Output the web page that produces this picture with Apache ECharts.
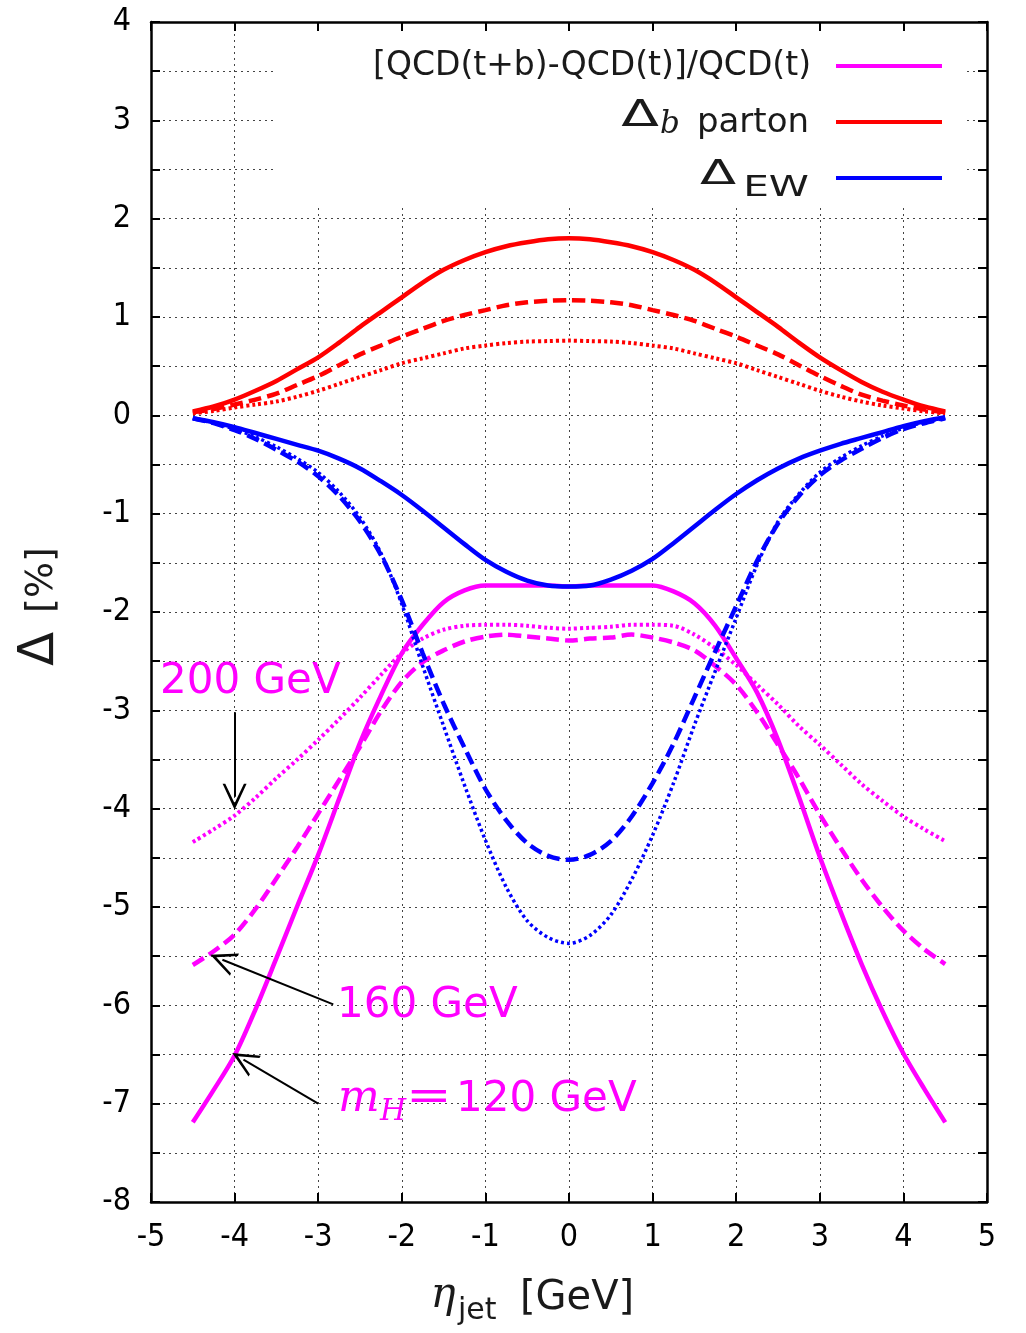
<!DOCTYPE html>
<html>
<head>
<meta charset="utf-8">
<script src="https://cdn.jsdelivr.net/npm/echarts@6/dist/echarts.min.js"></script>
<style>
  html, body { margin: 0; padding: 0; background: #fff; }
  #chart { width: 1026px; height: 1333px; }
</style>
</head>
<body>
<div id="chart"></div>
<script>
// eta_jet sample points
const etaVals = [-4.5, -4.25, -4, -3.75, -3.5, -3.25, -3, -2.75, -2.5, -2.25, -2, -1.75, -1.5, -1.25, -1, -0.75, -0.5, -0.25,
  0, 0.25, 0.5, 0.75, 1, 1.25, 1.5, 1.75, 2, 2.25, 2.5, 2.75, 3, 3.25, 3.5, 3.75, 4, 4.25, 4.5]

// [QCD(t+b)-QCD(t)]/QCD(t)  (magenta)
const qcd120 = [-7.19, -6.86, -6.51, -6.04, -5.52, -4.99, -4.47, -3.90, -3.33, -2.85, -2.42, -2.13, -1.90, -1.78, -1.73, -1.73, -1.73, -1.73,
  -1.74, -1.73, -1.73, -1.73, -1.73, -1.79, -1.91, -2.14, -2.47, -2.82, -3.30, -3.88, -4.49, -5.05, -5.58, -6.06, -6.49, -6.85, -7.19]
const qcd160 = [-5.59, -5.45, -5.28, -5.02, -4.71, -4.39, -4.05, -3.71, -3.37, -3.01, -2.71, -2.51, -2.39, -2.30, -2.25, -2.23, -2.25, -2.27,
  -2.29, -2.27, -2.26, -2.23, -2.26, -2.31, -2.39, -2.55, -2.74, -3.02, -3.35, -3.69, -4.06, -4.40, -4.72, -5.00, -5.24, -5.43, -5.58]
const qcd200 = [-4.34, -4.21, -4.07, -3.89, -3.69, -3.50, -3.30, -3.09, -2.87, -2.64, -2.42, -2.27, -2.18, -2.14, -2.13, -2.13, -2.14, -2.16,
  -2.17, -2.16, -2.15, -2.13, -2.13, -2.14, -2.23, -2.37, -2.54, -2.74, -2.94, -3.16, -3.35, -3.55, -3.75, -3.92, -4.08, -4.21, -4.33]

// Delta_b parton  (red)
const bParton120 = [0.04, 0.09, 0.16, 0.25, 0.35, 0.47, 0.59, 0.74, 0.90, 1.05, 1.20, 1.35, 1.48, 1.58, 1.66, 1.72, 1.76, 1.79,
  1.80, 1.79, 1.76, 1.72, 1.66, 1.58, 1.48, 1.35, 1.20, 1.05, 0.90, 0.74, 0.59, 0.46, 0.34, 0.24, 0.16, 0.09, 0.04]
const bParton160 = [0.03, 0.065, 0.11, 0.16, 0.22, 0.31, 0.40, 0.51, 0.62, 0.71, 0.80, 0.88, 0.96, 1.02, 1.07, 1.12, 1.15, 1.165,
  1.17, 1.165, 1.15, 1.12, 1.07, 1.02, 0.96, 0.88, 0.80, 0.71, 0.62, 0.51, 0.40, 0.30, 0.21, 0.15, 0.10, 0.06, 0.03]
const bParton200 = [0.02, 0.045, 0.08, 0.11, 0.14, 0.19, 0.25, 0.32, 0.39, 0.46, 0.53, 0.58, 0.63, 0.68, 0.71, 0.735, 0.75, 0.755,
  0.76, 0.755, 0.75, 0.735, 0.71, 0.68, 0.63, 0.58, 0.53, 0.46, 0.39, 0.32, 0.25, 0.19, 0.14, 0.10, 0.07, 0.04, 0.02]

// Delta_EW  (blue)
const ew120 = [-0.03, -0.07, -0.12, -0.18, -0.24, -0.30, -0.36, -0.44, -0.54, -0.67, -0.81, -0.97, -1.14, -1.31, -1.47, -1.59, -1.68, -1.73,
  -1.74, -1.73, -1.67, -1.58, -1.46, -1.30, -1.13, -0.96, -0.80, -0.66, -0.54, -0.44, -0.36, -0.29, -0.23, -0.17, -0.11, -0.06, -0.02]
const ew160 = [-0.03, -0.08, -0.15, -0.24, -0.35, -0.47, -0.62, -0.82, -1.08, -1.42, -1.88, -2.42, -2.93, -3.38, -3.80, -4.12, -4.35, -4.48,
  -4.52, -4.47, -4.33, -4.08, -3.74, -3.34, -2.87, -2.40, -1.94, -1.48, -1.10, -0.82, -0.61, -0.46, -0.34, -0.23, -0.14, -0.08, -0.03]
const ew200 = [-0.03, -0.08, -0.14, -0.22, -0.32, -0.44, -0.58, -0.78, -1.04, -1.40, -1.92, -2.55, -3.16, -3.76, -4.32, -4.80, -5.14, -5.31,
  -5.37, -5.29, -5.08, -4.72, -4.27, -3.74, -3.15, -2.60, -2.06, -1.52, -1.08, -0.80, -0.58, -0.43, -0.31, -0.21, -0.13, -0.07, -0.03]

// arrows for the mH annotations: [from, to] in data coordinates (the head is centred on "to")
const arrowLines = [
  [[-4.0, -3.02], [-4.0, -3.88]],
  [[-2.82, -5.99], [-4.146, -5.536]],
  [[-3.0, -7.0], [-3.894, -6.551]],
]

const magenta = '#ff00ff'
const red = '#ff0000'
const blue = '#0000ff'
const dashed = [13, 6]
const dotted = [3, 3]
const tickFont = "'Liberation Sans Narrow', 'DejaVu Sans Condensed', 'Liberation Sans', sans-serif"
const textFont = "'DejaVu Sans', sans-serif"
const serifFont = "'DejaVu Serif', serif"

const toPairs = (ys) => etaVals.map((x, i) => [x, ys[i]])

const makeLine = (name, ys, color, type, width) => ({
  name: name,
  type: 'line',
  data: toPairs(ys),
  smooth: 0.3,
  showSymbol: false,
  symbol: 'none',
  lineStyle: { color: color, width: width, type: type },
  silent: true,
})

const chart = echarts.init(document.getElementById('chart'))

// open V arrow head
const arrowHead = 'path://M0,0 L9,20 L7,20 L0,5 L-7,20 L-9,20 Z'

const series = [
  makeLine('qcd120', qcd120, magenta, 'solid', 4.5),
  makeLine('qcd160', qcd160, magenta, dashed, 4.5),
  makeLine('qcd200', qcd200, magenta, dotted, 4),
  makeLine('b120', bParton120, red, 'solid', 4.5),
  makeLine('b160', bParton160, red, dashed, 4.5),
  makeLine('b200', bParton200, red, dotted, 4),
  makeLine('ew120', ew120, blue, 'solid', 4.5),
  makeLine('ew160', ew160, blue, dashed, 4.5),
  makeLine('ew200', ew200, blue, dotted, 3.5),
]
// arrows hang on the first series
series[0].markLine = {
  silent: true,
  animation: false,
  symbol: ['none', arrowHead],
  symbolSize: [24, 26],
  label: { show: false },
  lineStyle: { color: '#000', width: 2, type: 'solid' },
  data: arrowLines.map((a) => [{ coord: a[0] }, { coord: a[1] }]),
}

const axisCommon = {
  type: 'value',
  axisLine: { show: true, onZero: false, lineStyle: { color: '#000', width: 2.5 } },
  axisTick: { show: true, inside: true, length: 9, lineStyle: { color: '#000', width: 2 } },
}

const option = {
  animation: false,
  backgroundColor: '#fff',
  grid: { left: 151, right: 39, top: 22, bottom: 131, containLabel: false, outerBoundsMode: 'none' },
  xAxis: [
    {
      ...axisCommon,
      position: 'bottom',
      min: -5,
      max: 5,
      interval: 1,
      axisLabel: { color: '#000', fontSize: 32, fontFamily: tickFont, margin: 20 },
      splitLine: { show: true, lineStyle: { color: '#444', width: 1, type: [2, 4] } },
    },
    {
      ...axisCommon,
      position: 'top',
      min: -5,
      max: 5,
      interval: 1,
      axisLabel: { show: false },
      splitLine: { show: false },
    },
  ],
  yAxis: [
    {
      ...axisCommon,
      position: 'left',
      min: -8,
      max: 4,
      interval: 0.5,
      axisLabel: {
        color: '#000',
        fontSize: 32,
        fontFamily: tickFont,
        margin: 20,
        formatter: (v) => (Number.isInteger(v) ? String(v) : ''),
      },
      splitLine: { show: true, lineStyle: { color: '#444', width: 1, type: [2, 4] } },
    },
    {
      ...axisCommon,
      position: 'right',
      min: -8,
      max: 4,
      interval: 0.5,
      axisLabel: { show: false },
      splitLine: { show: false },
    },
  ],
  series: series,
  graphic: [
    // blank box behind the key
    { type: 'rect', z: 1, silent: true, shape: { x: 273, y: 32, width: 690, height: 175 }, style: { fill: '#fff' } },

    // key
    { type: 'text', z: 5, x: 811, y: 66, style: { text: '[QCD(t+b)-QCD(t)]/QCD(t)', font: '33px ' + textFont, fill: '#1a1a1a', align: 'right', verticalAlign: 'middle' } },
    { type: 'line', z: 5, shape: { x1: 836, y1: 66, x2: 942, y2: 66 }, style: { stroke: magenta, lineWidth: 4 } },

    { type: 'text', z: 5, x: 640, y: 116, scaleX: 1.45, style: { text: 'Δ', font: '38px ' + textFont, fill: '#1a1a1a', align: 'center', verticalAlign: 'middle' } },
    { type: 'text', z: 5, x: 670, y: 125, style: { text: 'b', font: 'italic 31px ' + serifFont, fill: '#1a1a1a', align: 'center', verticalAlign: 'middle' } },
    { type: 'text', z: 5, x: 809, y: 123, style: { text: 'parton', font: '34px ' + textFont, fill: '#1a1a1a', align: 'right', verticalAlign: 'middle' } },
    { type: 'line', z: 5, shape: { x1: 836, y1: 122, x2: 942, y2: 122 }, style: { stroke: red, lineWidth: 4 } },

    { type: 'text', z: 5, x: 718, y: 175, scaleX: 1.6, style: { text: 'Δ', font: '33px ' + textFont, fill: '#1a1a1a', align: 'center', verticalAlign: 'middle' } },
    { type: 'text', z: 5, x: 809, y: 188, scaleX: 1.4, style: { text: 'EW', font: '29px ' + textFont, fill: '#1a1a1a', align: 'right', verticalAlign: 'middle' } },
    { type: 'line', z: 5, shape: { x1: 836, y1: 178, x2: 942, y2: 178 }, style: { stroke: blue, lineWidth: 4 } },

    // mass labels
    { type: 'text', z: 5, x: 160, y: 682, style: { text: '200 GeV', font: '42px ' + textFont, fill: magenta, align: 'left', verticalAlign: 'middle' } },
    { type: 'text', z: 5, x: 337, y: 1006, style: { text: '160 GeV', font: '42px ' + textFont, fill: magenta, align: 'left', verticalAlign: 'middle' } },
    { type: 'text', z: 5, x: 338, y: 1100, style: { text: 'm', font: 'italic 44px ' + serifFont, fill: magenta, align: 'left', verticalAlign: 'middle' } },
    { type: 'text', z: 5, x: 380, y: 1112, style: { text: 'H', font: 'italic 30px ' + serifFont, fill: magenta, align: 'left', verticalAlign: 'middle' } },
    { type: 'text', z: 5, x: 406, y: 1098, scaleX: 1.3, style: { text: '=', font: '42px ' + textFont, fill: magenta, align: 'left', verticalAlign: 'middle' } },
    { type: 'text', z: 5, x: 456, y: 1100, style: { text: '120 GeV', font: '42px ' + textFont, fill: magenta, align: 'left', verticalAlign: 'middle' } },

    // axis titles
    { type: 'text', z: 5, x: 40, y: 649, rotation: Math.PI / 2, style: { text: 'Δ', font: '50px ' + textFont, fill: '#1a1a1a', align: 'center', verticalAlign: 'middle' } },
    { type: 'text', z: 5, x: 42, y: 580, rotation: Math.PI / 2, style: { text: '[%]', font: '38px ' + textFont, fill: '#1a1a1a', align: 'center', verticalAlign: 'middle' } },
    { type: 'text', z: 5, x: 443, y: 1296, style: { text: 'η', font: 'italic 42px ' + serifFont, fill: '#1a1a1a', align: 'center', verticalAlign: 'middle' } },
    { type: 'text', z: 5, x: 458, y: 1311, style: { text: 'jet', font: '30px ' + textFont, fill: '#1a1a1a', align: 'left', verticalAlign: 'middle' } },
    { type: 'text', z: 5, x: 520, y: 1299, style: { text: '[GeV]', font: '40px ' + textFont, fill: '#1a1a1a', align: 'left', verticalAlign: 'middle' } },
  ],
}

chart.setOption(option)
</script>
</body>
</html>
